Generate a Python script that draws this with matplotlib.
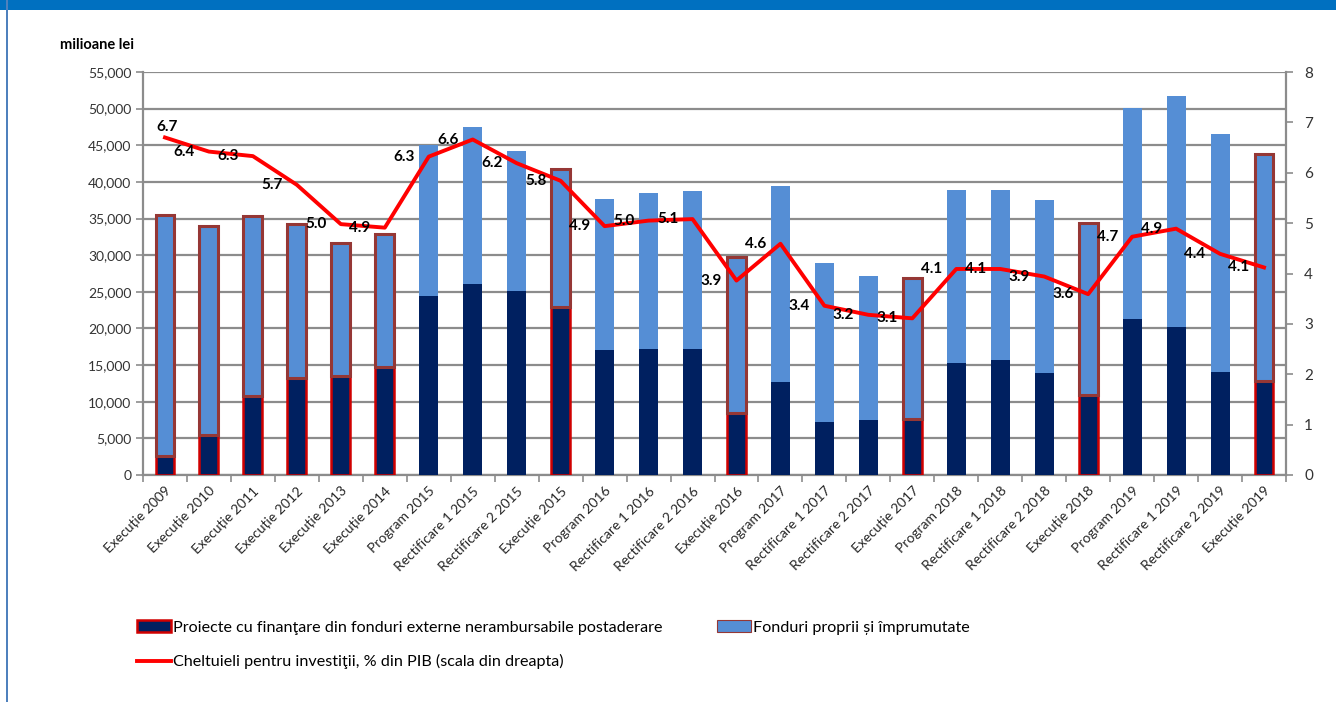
import matplotlib.pyplot as plt
import numpy as np
from matplotlib.patches import Patch, Rectangle
from matplotlib.lines import Line2D
from matplotlib.ticker import FuncFormatter

plt.rcParams['font.family'] = ['Lato', 'DejaVu Sans']

categories = ['Execuție 2009', 'Execuție 2010', 'Execuție 2011', 'Execuție 2012',
              'Execuție 2013', 'Execuție 2014', 'Program 2015', 'Rectificare 1 2015',
              'Rectificare 2 2015', 'Execuție 2015', 'Program 2016', 'Rectificare 1 2016',
              'Rectificare 2 2016', 'Execuție 2016', 'Program 2017', 'Rectificare 1 2017',
              'Rectificare 2 2017', 'Execuție 2017', 'Program 2018', 'Rectificare 1 2018',
              'Rectificare 2 2018', 'Execuție 2018', 'Program 2019', 'Rectificare 1 2019',
              'Rectificare 2 2019', 'Execuție 2019']
# millions lei
external = [2600, 5500, 10800, 13300, 13550, 14800, 24450, 26000, 25100, 22950,
            17050, 17150, 17150, 8400, 12700, 7250, 7500, 7650, 15300, 15700,
            13900, 10900, 21300, 20150, 14000, 12850]
total = [35500, 34000, 35350, 34250, 31700, 32850, 45000, 47450, 44200, 41700,
         37650, 38450, 38750, 29800, 39500, 28900, 27150, 26850, 38900, 38900,
         37500, 34400, 50150, 51750, 46550, 43750]
own = [t - e for t, e in zip(total, external)]
# % of GDP (right scale)
gdp_pct = [6.70, 6.42, 6.33, 5.76, 4.98, 4.91, 6.32, 6.66, 6.19, 5.84, 4.94, 5.05,
           5.08, 3.86, 4.59, 3.36, 3.18, 3.11, 4.09, 4.09, 3.94, 3.59, 4.73, 4.89,
           4.39, 4.12]
gdp_labels = ['6.7', '6.4', '6.3', '5.7', '5.0', '4.9', '6.3', '6.6', '6.2', '5.8',
              '4.9', '5.0', '5.1', '3.9', '4.6', '3.4', '3.2', '3.1', '4.1', '4.1',
              '3.9', '3.6', '4.7', '4.9', '4.4', '4.1']

dark = '#002060'
light = '#558ED5'
brown = '#953735'
grid_c = '#8C8C8C'

fig = plt.figure(figsize=(13.36, 7.02), dpi=100)
ax = fig.add_axes([143/1336, 1-475/702, (1286-143)/1336, (475-72)/702])

x = np.arange(len(categories))
is_exec = [c.startswith('Execuție') for c in categories]
w = 0.43

for i in x:
    if is_exec[i]:
        ax.bar(i, external[i], w, color=dark, edgecolor='#D00000', linewidth=1.8, zorder=3)
        ax.bar(i, own[i], w, bottom=external[i], color=light, edgecolor=brown,
               linewidth=2.2, zorder=3)
    else:
        ax.bar(i, external[i], w, color=dark, linewidth=0, zorder=3)
        ax.bar(i, own[i], w, bottom=external[i], color=light, linewidth=0, zorder=3)

ax.set_xlim(-0.5, len(categories) - 0.5)
ax.set_ylim(0, 55000)
ax.set_yticks(np.arange(0, 55001, 5000))
ax.yaxis.set_major_formatter(FuncFormatter(lambda v, p: f'{int(v):,}'))
ax.grid(axis='y', color=grid_c, linewidth=1.6, zorder=0)
ax.set_axisbelow(True)

ax.set_xticks(x)
ax.set_xticklabels(categories, rotation=45, ha='right', rotation_mode='anchor',
                   fontsize=10, color='#262626')
ax.set_xticks(np.arange(-0.5, len(categories), 1), minor=True)
ax.tick_params(axis='x', which='major', length=0, pad=7)
ax.tick_params(axis='x', which='minor', length=5, color=grid_c, width=1.2)
ax.tick_params(axis='y', length=5, color=grid_c, width=1.2, labelsize=10,
               labelcolor='#333333')
for s in ['top', 'right']:
    ax.spines[s].set_visible(False)
for s in ['left', 'bottom']:
    ax.spines[s].set_color(grid_c)
    ax.spines[s].set_linewidth(1.6)

ax2 = ax.twinx()
ax2.plot(x, gdp_pct, color='#FF0000', linewidth=2.8, zorder=5)
ax2.set_ylim(0, 8)
ax2.set_yticks(range(0, 9))
ax2.tick_params(axis='y', length=5, color=grid_c, width=1.2, labelsize=11,
                labelcolor='#333333', pad=8)
for s in ['top', 'left', 'bottom']:
    ax2.spines[s].set_visible(False)
ax2.spines['right'].set_color(grid_c)
ax2.spines['right'].set_linewidth(1.6)

for i, (v, t) in enumerate(zip(gdp_pct, gdp_labels)):
    if i == 0:
        ax2.annotate(t, (i, v), xytext=(2, 10), textcoords='offset pixels',
                     ha='center', va='center', fontsize=11, fontweight='bold', zorder=6)
    else:
        ax2.annotate(t, (i, v), xytext=(-25, 0), textcoords='offset pixels',
                     ha='center', va='center', fontsize=11, fontweight='bold', zorder=6)

fig.text(60/1336, 1-45/702, 'milioane lei', fontsize=10.5, fontweight='bold',
         ha='left', va='center')

handles = [Patch(facecolor=dark, edgecolor='#D00000', linewidth=1.8),
           Line2D([0], [0], color='#FF0000', linewidth=2.8),
           Patch(facecolor=light, edgecolor=brown, linewidth=0.8)]
labels = ['Proiecte cu finanţare din fonduri externe nerambursabile postaderare',
          'Cheltuieli pentru investiţii, % din PIB (scala din dreapta)',
          'Fonduri proprii și împrumutate']
fig.legend(handles, labels, ncol=2, loc='upper left',
           bbox_to_anchor=(131/1336, 1-614/702), frameon=False, fontsize=11.6,
           handlelength=2.1, handleheight=0.75, handletextpad=0.1,
           columnspacing=3.4, labelspacing=1.2, borderaxespad=0)

fig.patches.append(Rectangle((0, 1-10/702), 1, 10/702, transform=fig.transFigure,
                             facecolor='#0070C0', edgecolor='none', zorder=10))
fig.patches.append(Rectangle((6/1336, 0), 2/1336, 1, transform=fig.transFigure,
                             facecolor='#4F81BD', edgecolor='none', zorder=10))

plt.savefig('out.png', dpi=100)
